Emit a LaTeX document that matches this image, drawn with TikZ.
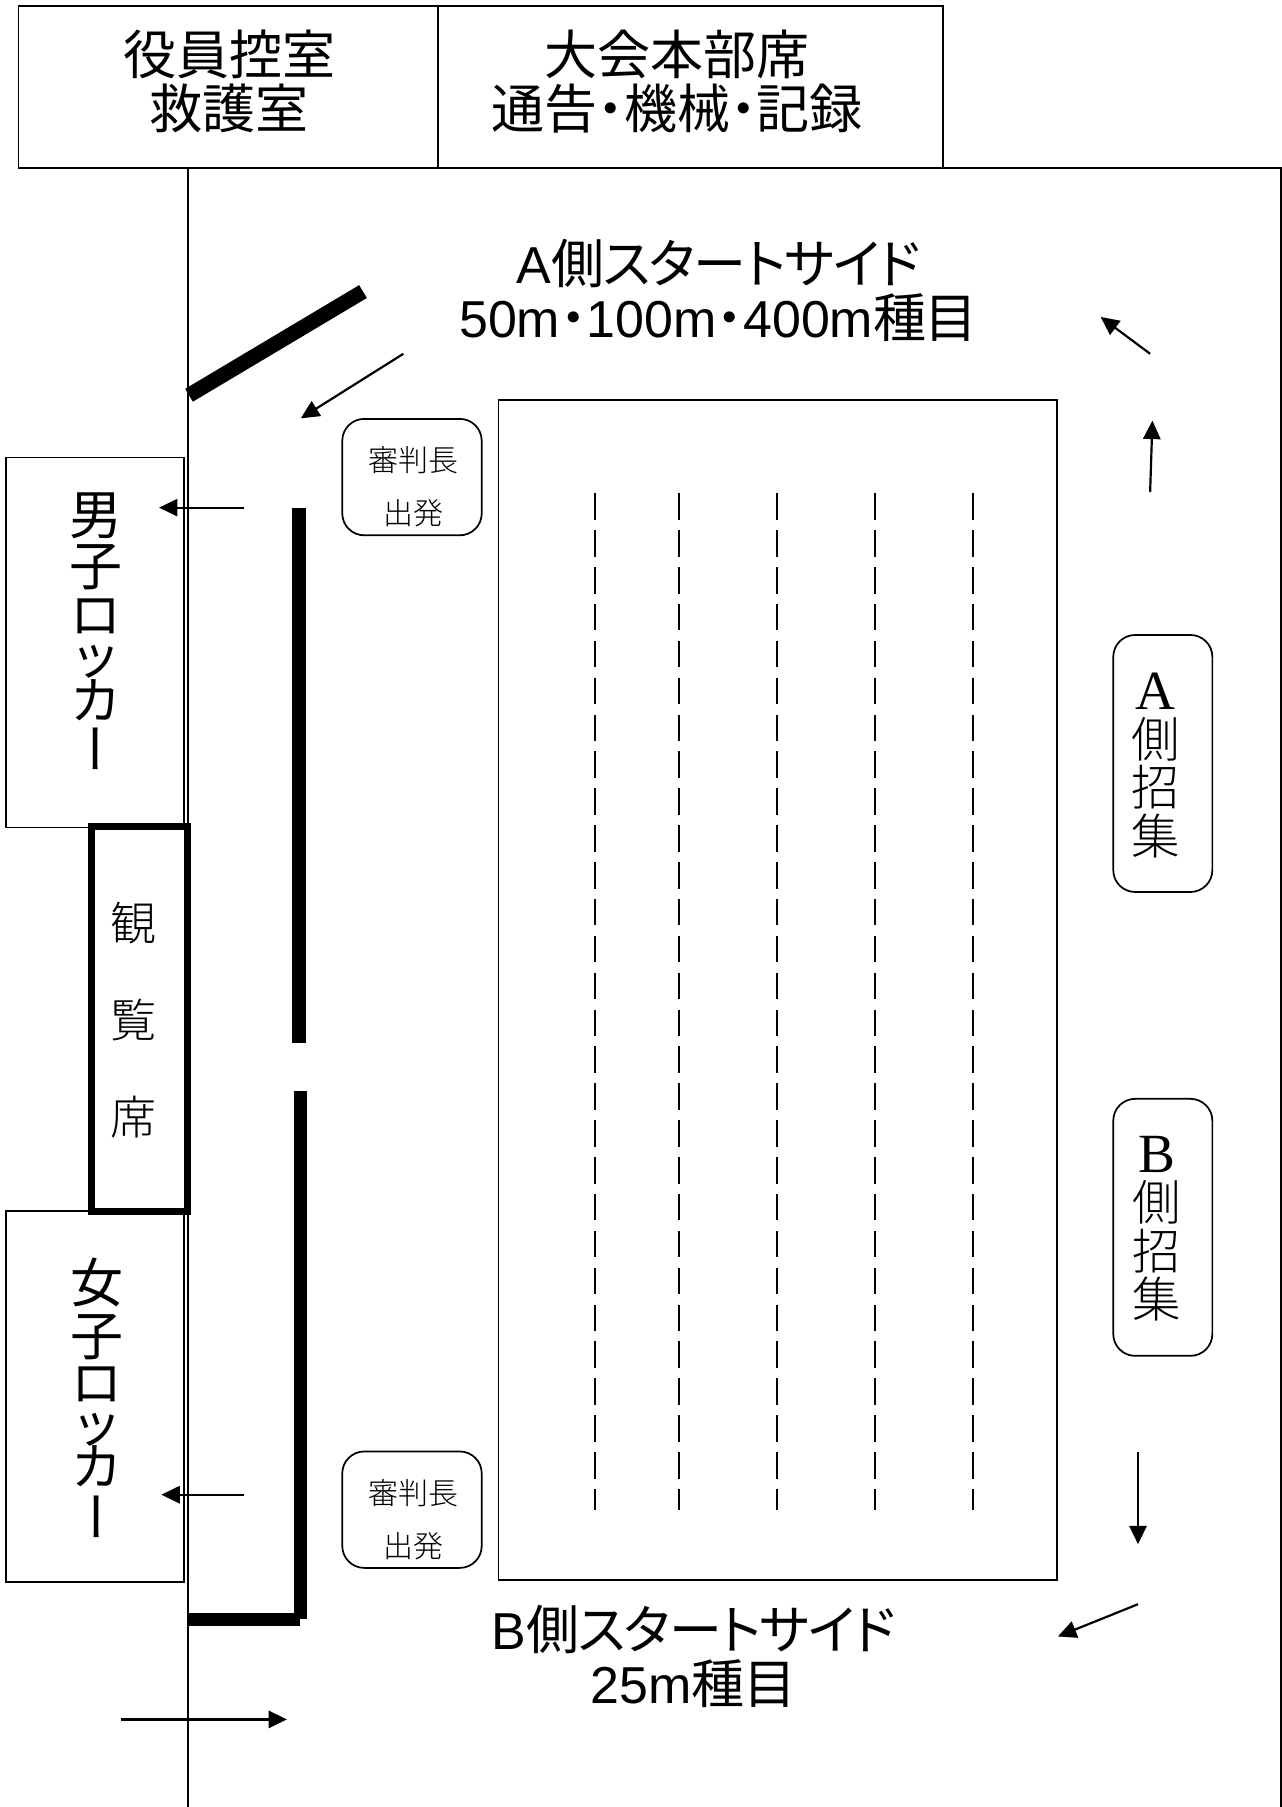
\documentclass[tikz,border=0pt]{standalone}
\usepackage{fontspec}
\usepackage{tikz}
\usetikzlibrary{arrows.meta}
\setmainfont{Noto Sans CJK JP}
\newfontfamily\goth[RawFeature=+palt,LetterSpace=-2.5]{Noto Sans CJK JP}
\newfontfamily\gothfull{Noto Sans CJK JP}
\newfontfamily\gothv[RawFeature=+vert]{Noto Sans CJK JP}
\newfontfamily\thin{Noto Sans CJK JP Light}
\newfontfamily\latin[Scale=0.98]{Liberation Sans}
\newfontfamily\slatin{Liberation Serif}
\newcommand{\sqdot}{{\bfseries ･}}
\newcommand{\kana}[1]{{\fontsize{22}{22}\selectfont #1}}
\tikzset{
  outline/.style={draw=black,line width=0.8pt},
  room/.style={outline,rectangle,inner sep=0pt,outer sep=0pt,align=center},
  softbox/.style={draw=black,line width=0.75pt,rectangle,rounded corners=9.5pt,inner sep=0pt,outer sep=0pt},
  heavy/.style={line width=5.8pt,line cap=butt},
  flow/.style={line width=0.95pt,-{Triangle[length=8pt,width=7.5pt]}},
  lane/.style={line width=0.85pt,dash pattern=on 11.5pt off 4.5pt},
  big/.style={inner sep=0pt,align=center,font=\goth\fontsize{23}{23.5}\selectfont},
  bigfull/.style={inner sep=0pt,align=center,font=\gothfull\fontsize{23}{23.5}\selectfont},
  bigv/.style={inner sep=0pt,align=center,font=\gothfull\fontsize{23}{22}\selectfont},
  small/.style={inner sep=0pt,align=center,font=\thin\fontsize{13}{23}\selectfont},
  tall/.style={inner sep=0pt,align=center,font=\thin\fontsize{21}{21}\selectfont},
  seats/.style={inner sep=0pt,align=center,font=\thin\fontsize{20}{42}\selectfont},
}
\begin{document}
\begin{tikzpicture}[x=0.5pt,y=-0.5pt]
\useasboundingbox (0,0) rectangle (1112,1568);
% outer hall
\coordinate (hallBL) at (163,1568);
\coordinate (hallTL) at (163,146);
\coordinate (hallTR) at (1111.5,146);
\coordinate (hallBR) at (1111.5,1568);
\draw[outline] (hallBL) -- (hallTL) -- (hallTR) -- (hallBR);
% top rooms
\node[room,fill=white,minimum width=182pt,minimum height=70.5pt] (office) at (198,75.5) {};
\node[room,fill=white,minimum width=219pt,minimum height=70.5pt] (hq) at (599,75.5) {};
\node[bigfull] (officeT) at (199,70.5) {役員控室\\救護室};
\node[bigfull] (hqT) at (587.5,70.5) {大会本部席\\通告\sqdot 機械\sqdot 記録};
% lockers
\node[room,minimum width=77.5pt,minimum height=160.5pt] (men) at (82.5,557.5) {};
\node[room,minimum width=77.5pt,minimum height=161pt] (women) at (82.5,1212) {};
\node[bigv] (menT) at (83,548) {男\\子\\[-1pt]\kana{ロ}\\[-4.5pt]\kana{ッ}\\[-2.5pt]\kana{カ}\\{\gothv ー}};
\node[bigv] (womenT) at (84,1213) {女\\[1pt]子\\[-2pt]\kana{ロ}\\[-4.5pt]\kana{ッ}\\[-3pt]\kana{カ}\\[0.5pt]{\gothv ー}};
% seats
\node[draw=black,line width=3pt,rectangle,fill=white,inner sep=0pt,outer sep=0pt,minimum width=42pt,minimum height=167pt] (seatbox) at (121,884.5) {};
\node[seats] (seatT) at (116,885) {観\\覧\\席};
% thick walls
\coordinate (wallA1) at (164,343);
\coordinate (wallA2) at (315,253);
\draw[heavy,line width=6.5pt] (wallA1) -- (wallA2);
\coordinate (wallB1) at (259.5,441);
\coordinate (wallB2) at (259.5,905);
\draw[heavy] (wallB1) -- (wallB2);
\coordinate (wallC1) at (261,947);
\coordinate (wallC2) at (261,1405);
\draw[heavy] (wallC1) -- (wallC2);
\coordinate (wallD1) at (163,1405.5);
\coordinate (wallD2) at (260,1405.5);
\draw[heavy] (wallD1) -- (wallD2);
% pool
\node[room,minimum width=242.5pt,minimum height=512pt] (pool) at (675,859) {};
\foreach \lx [count=\li] in {516,589,674,759,844}{
  \coordinate (laneT\li) at (\lx,428);
  \coordinate (laneB\li) at (\lx,1310);
  \draw[lane] (laneT\li) -- (laneB\li);
}
% referee
\node[softbox,minimum width=60.5pt,minimum height=50.5pt] (refA) at (357.5,414) {};
\node[small] (refAT) at (358.5,422.5) {審判長\\出発};
\node[softbox,minimum width=60.5pt,minimum height=50.5pt] (refB) at (357.5,1310) {};
\node[small] (refBT) at (358.5,1318.5) {審判長\\出発};
% call rooms
\node[softbox,minimum width=43pt,minimum height=111.5pt] (callA) at (1009,662.5) {};
\node[tall] (callAT) at (1003,664) {{\slatin\fontsize{24}{21}\selectfont A}\\側\\招\\集};
\node[softbox,minimum width=43pt,minimum height=111.5pt] (callB) at (1009,1065) {};
\node[tall] (callBT) at (1003.5,1066) {{\slatin\fontsize{24}{21}\selectfont B}\\側\\招\\集};
% headings
\node[big] (startA) at (623.5,252) {{\latin A}側スタートサイド\\{\latin 50m}\sqdot{\latin 100m}\sqdot{\latin 400m}種目};
\node[big] (startB) at (602,1437) {{\latin B}側スタートサイド\\{\latin 25m}種目};
% arrows
\coordinate (a1s) at (350,307); \coordinate (a1e) at (261,363);
\coordinate (a2s) at (212,440.5); \coordinate (a2e) at (138,440.5);
\coordinate (a3s) at (212,1297); \coordinate (a3e) at (140,1297);
\coordinate (a4s) at (105,1492); \coordinate (a4e) at (249,1492);
\coordinate (a5s) at (998,307); \coordinate (a5e) at (955,275);
\coordinate (a6s) at (998,427); \coordinate (a6e) at (1000,365);
\coordinate (a7s) at (987.5,1260); \coordinate (a7e) at (987.5,1340);
\coordinate (a8s) at (987.5,1392); \coordinate (a8e) at (918,1420);
\foreach \k in {1,...,8}{\draw[flow] (a\k s) -- (a\k e);}
\end{tikzpicture}
\end{document}
